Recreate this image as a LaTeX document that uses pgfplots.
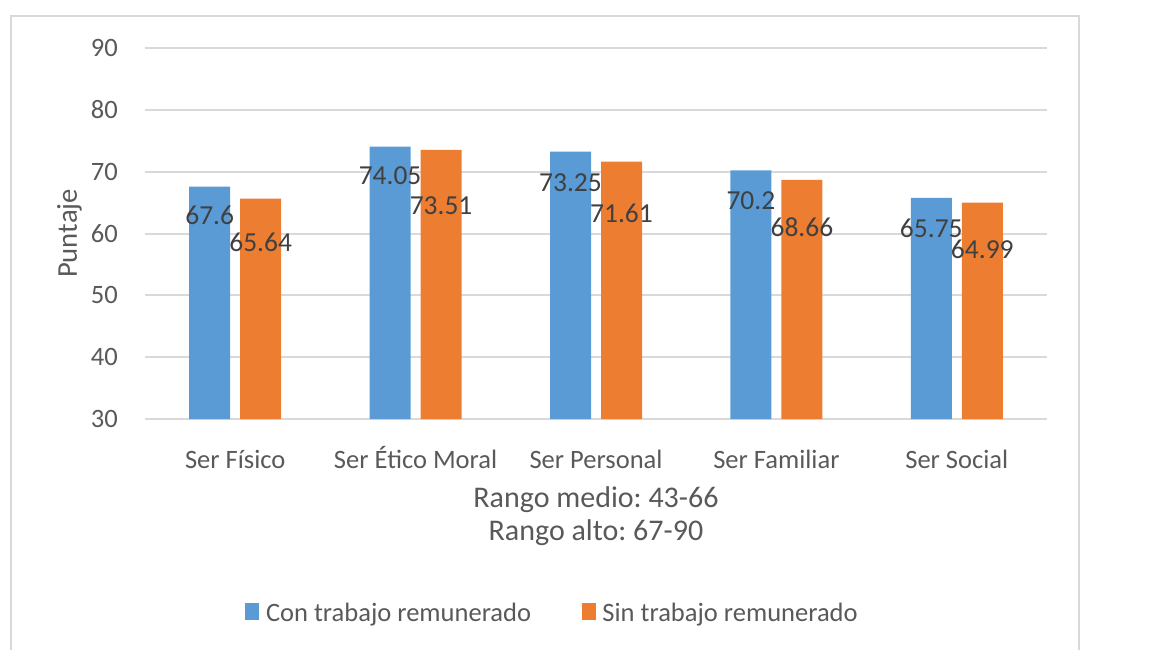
\documentclass[border=0pt]{standalone}
\usepackage{fontspec}
\setmainfont{Carlito}
\usepackage{pgfplots}
\pgfplotsset{compat=1.18}
\definecolor{cblue}{HTML}{5B9BD5}
\definecolor{corange}{HTML}{ED7D31}
\definecolor{gridc}{HTML}{D9D9D9}
\definecolor{txt}{HTML}{595959}
\definecolor{lbl}{HTML}{404040}
\frenchspacing
\begin{document}
\begin{tikzpicture}[font=\fontsize{19.9}{24}\selectfont]
\useasboundingbox (-108.75pt,-173.25pt) rectangle (759.75pt,314.25pt);
\begin{axis}[
 at={(0,0)}, anchor=south west,
 scale only axis, width=676.5pt, height=278.25pt,
 xmin=-0.5, xmax=4.5, ymin=30, ymax=90,
 ybar=7.5pt, bar width=30.75pt,
 xtick={0,1,2,3,4},
 xticklabels={Ser Físico, Ser Ético Moral, Ser Personal, Ser Familiar, Ser Social},
 ytick={30,40,...,90},
 axis line style={draw=none},
 tick style={draw=none},
 ymajorgrids, grid style={gridc, line width=1.5pt},
 tick label style={text=txt, inner sep=0pt},
 yticklabel style={anchor=east, xshift=-20.25pt},
 xticklabel style={anchor=base, yshift=-33pt},
 /pgf/number format/assume math mode=true,
 ylabel={Puntaje},
 every axis y label/.style={at={(axis description cs:-0.0754,0.5)}, rotate=90, anchor=base, text=txt, inner sep=0pt, font=\fontsize{21.5}{26}\selectfont},
 nodes near coords,
 visualization depends on={\thisrow{off} \as \myoff},
 every node near coord/.append style={anchor=base, yshift={-0.75pt*\myoff}, inner sep=0pt, text=lbl, font=\fontsize{20.6}{24}\selectfont},
 clip=false,
 legend style={at={(axis description cs:0.4507,-0.523)}, anchor=center, draw=none, fill=none,
   legend columns=2, text=txt, inner sep=0pt, nodes={inner sep=0pt},
   /tikz/every even column/.append style={column sep=38pt},
   /tikz/every odd column/.append style={column sep=5pt}},
]
\addplot[fill=cblue, draw=none, legend image code/.code={\fill[cblue] (0pt,-5pt) rectangle (10.5pt,7.5pt);}]
 table[x=x, y=y] {
 x y off
 0 67.6 38.4
 1 74.05 38
 2 73.25 40
 3 70.2 39.5
 4 65.75 40
 };
\addplot[fill=corange, draw=none, legend image code/.code={\fill[corange] (0pt,-5pt) rectangle (10.5pt,7.5pt);}]
 table[x=x, y=y] {
 x y off
 0 65.64 53
 1 73.51 65
 2 71.61 61
 3 68.66 57
 4 64.99 56
 };
\legend{Con trabajo remunerado, Sin trabajo remunerado}
\node[anchor=base, text=txt, inner sep=0pt, font=\fontsize{22.5}{27}\selectfont] at (axis description cs:0.5,-0.2372) {Rango medio: 43-66};
\node[anchor=base, text=txt, inner sep=0pt, font=\fontsize{22.5}{27}\selectfont] at (axis description cs:0.5,-0.3288) {Rango alto: 67-90};
\end{axis}
\draw[gridc, line width=1.5pt] (-100.5pt,-180pt) -- (-100.5pt,302.25pt) -- (700.5pt,302.25pt) -- (700.5pt,-180pt);
\end{tikzpicture}
\end{document}
